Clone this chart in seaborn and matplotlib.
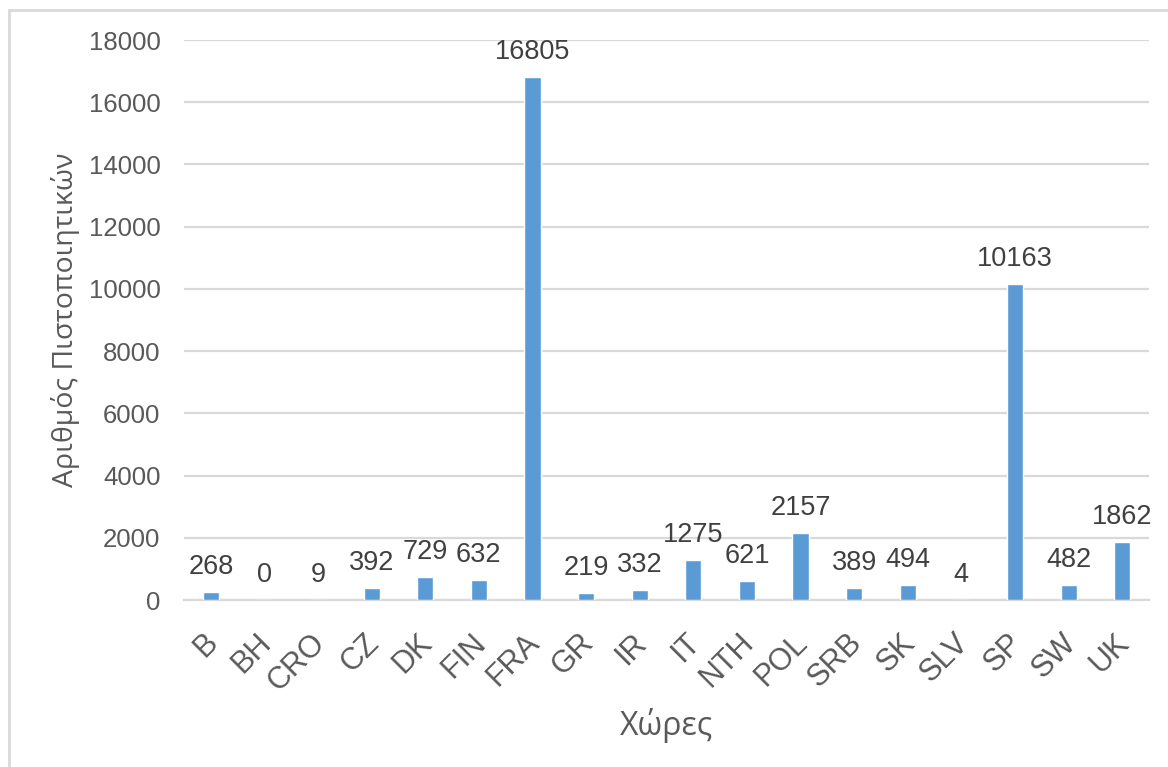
import matplotlib
matplotlib.use("Agg")
import matplotlib.pyplot as plt
import matplotlib.transforms as mtransforms
import seaborn as sns
import pandas as pd
from matplotlib.lines import Line2D

countries = ["B", "BH", "CRO", "CZ", "DK", "FIN", "FRA", "GR", "IR", "IT",
             "NTH", "POL", "SRB", "SK", "SLV", "SP", "SW", "UK"]
certificates = [268, 0, 9, 392, 729, 632, 16805, 219, 332, 1275,
                621, 2157, 389, 494, 4, 10163, 482, 1862]
y_ticks = [0, 2000, 4000, 6000, 8000, 10000, 12000, 14000, 16000, 18000]

df = pd.DataFrame({"country": countries, "count": certificates})

sns.set_theme(style="white")
plt.rcParams["font.family"] = ["Liberation Sans", "DejaVu Sans"]

text_color = "#595959"
grid_color = "#D9D9D9"
bar_color = "#5B9BD5"

fig = plt.figure(figsize=(11.68, 7.67), dpi=100)
ax = fig.add_axes([184 / 1168, 1 - 600 / 767, (1149 - 184) / 1168, (600 - 40) / 767])

sns.barplot(data=df, x="country", y="count", color=bar_color, width=0.3,
            saturation=1, ax=ax, zorder=3)

ax.set_ylim(0, 18000)
ax.set_yticks(y_ticks)
ax.set_yticklabels([str(t) for t in y_ticks], fontsize=18.5, color=text_color)
ax.yaxis.grid(True, color=grid_color, linewidth=1.6, zorder=0)
ax.set_axisbelow(True)
for s in ["top", "right", "left"]:
    ax.spines[s].set_visible(False)
ax.spines["bottom"].set_color(grid_color)
ax.spines["bottom"].set_linewidth(1.6)
ax.tick_params(axis="y", length=0, pad=17)
ax.tick_params(axis="x", length=0, pad=20)

ax.set_xticks(range(len(countries)))
ax.set_xticklabels(countries, rotation=45, ha="right", va="top",
                   rotation_mode="anchor", fontsize=22, color=text_color)
shift = mtransforms.ScaledTranslation(-8 / 100, 0, fig.dpi_scale_trans)
for lbl in ax.get_xticklabels():
    lbl.set_transform(lbl.get_transform() + shift)

for i, v in enumerate(certificates):
    ax.annotate(str(v), (i, v), xytext=(0, 18), textcoords="offset points",
                ha="center", va="center", fontsize=19.5, color="#404040")

ax.set_xlabel("Χώρες", fontsize=23, color=text_color,
              family=["Open Sans", "DejaVu Sans"], labelpad=8)
ax.set_ylabel("Αριθμός Πιστοποιητικών", fontsize=20.5, color=text_color,
              family=["Open Sans", "DejaVu Sans"], labelpad=6)

# chart frame
fig.add_artist(Line2D([8.5 / 1168, 8.5 / 1168], [0, 1 - 10 / 767],
                      transform=fig.transFigure, color="#D9D9D9", linewidth=2))
fig.add_artist(Line2D([8.5 / 1168, 1], [1 - 10 / 767, 1 - 10 / 767],
                      transform=fig.transFigure, color="#D9D9D9", linewidth=2))

fig.savefig("out.png", dpi=100, facecolor="white")
